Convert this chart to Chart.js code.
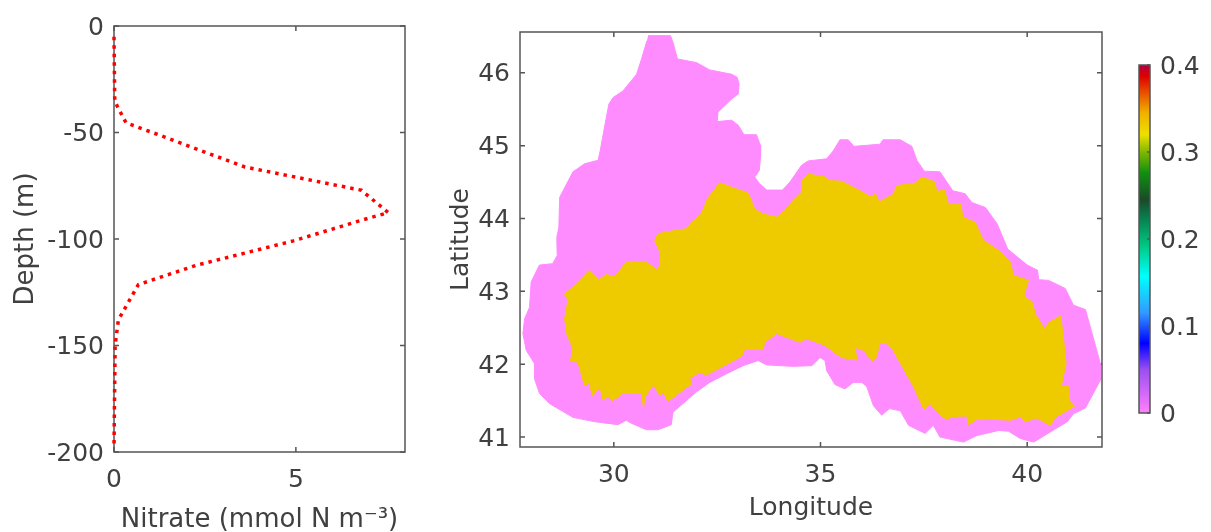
<!DOCTYPE html>
<html>
<head>
<meta charset="utf-8">
<title>Nitrate profile and map</title>
<script src="https://cdn.jsdelivr.net/npm/chart.js@4/dist/chart.umd.min.js"></script>
<style>
    html, body { margin: 0; padding: 0; background: #fff; overflow: hidden; }
    canvas { position: absolute; }
</style>
</head>
<body>
<canvas id="profileChart" width="420" height="532" style="left:0;top:0"></canvas>
<canvas id="mapChart" width="700" height="532" style="left:420px;top:0"></canvas>
<canvas id="barChart" width="86" height="400" style="left:1125px;top:40px"></canvas>
<script>
const depthValues = [-5, -35, -37.7, -45.4, -66.2, -77.1, -87.6, -91.2, -100.9, -112.3, -121.4, -138, -150, -198];
const nitrateValues = [0, 0.02, 0.09, 0.33, 3.6, 6.8, 7.54, 6.8, 4.93, 2.27, 0.67, 0.12, 0.03, 0];

// outer region, value 0
const outerLon = [30.83, 31.37, 31.43, 31.54, 32.00, 32.32, 32.85, 32.98, 33.03, 33.01, 32.85, 32.52, 32.50, 32.85, 33.01, 33.15, 33.45, 33.55, 33.55, 33.52, 33.41, 33.52, 33.70, 34.08, 34.26, 34.54, 34.70, 35.15, 35.31, 35.47, 35.67, 35.81, 36.44, 36.51, 36.93, 37.21, 37.33, 37.51, 37.89, 38.20, 38.50, 38.66, 38.99, 39.27, 39.53, 40.00, 40.25, 40.28, 40.52, 40.92, 41.12, 41.41, 41.77, 41.77, 41.41, 41.12, 40.97, 40.56, 40.16, 39.83, 39.55, 39.31, 38.78, 38.46, 37.89, 37.73, 37.53, 37.13, 36.93, 36.67, 36.48, 36.28, 36.12, 36.00, 35.79, 35.59, 35.35, 35.15, 35.11, 34.99, 34.79, 34.34, 33.70, 33.49, 33.13, 32.73, 32.32, 32.00, 31.43, 31.39, 31.07, 30.79, 30.42, 30.30, 30.10, 29.54, 29.01, 28.44, 28.20, 28.08, 28.08, 27.88, 27.80, 27.84, 27.96, 28.00, 28.20, 28.52, 28.63, 28.62, 28.67, 28.69, 29.01, 29.29, 29.62, 29.67, 29.76, 29.88, 29.98, 30.22, 30.55, 30.67, 30.80];
const outerLat = [46.51, 46.51, 46.42, 46.19, 46.14, 46.04, 45.98, 45.94, 45.85, 45.71, 45.64, 45.46, 45.33, 45.35, 45.28, 45.15, 45.15, 45.00, 44.86, 44.66, 44.57, 44.48, 44.39, 44.39, 44.50, 44.73, 44.79, 44.82, 44.93, 45.08, 45.08, 44.99, 45.02, 45.08, 45.08, 44.99, 44.80, 44.65, 44.64, 44.38, 44.34, 44.22, 44.15, 43.93, 43.58, 43.36, 43.29, 43.16, 43.15, 43.04, 42.81, 42.75, 42.01, 41.78, 41.40, 41.32, 41.21, 41.07, 40.93, 40.98, 41.08, 41.09, 41.02, 40.93, 41.00, 41.16, 41.05, 41.16, 41.36, 41.39, 41.30, 41.43, 41.69, 41.75, 41.75, 41.66, 41.72, 41.91, 42.05, 42.09, 41.98, 41.97, 41.99, 42.05, 41.98, 41.87, 41.75, 41.62, 41.34, 41.17, 41.10, 41.10, 41.19, 41.23, 41.17, 41.21, 41.27, 41.46, 41.60, 41.80, 42.01, 42.19, 42.42, 42.62, 42.78, 43.13, 43.36, 43.38, 43.49, 43.74, 43.88, 44.29, 44.64, 44.75, 44.80, 44.93, 45.21, 45.57, 45.66, 45.75, 45.98, 46.19, 46.44];

// inner region, value about 0.33
const innerLon = [32.55, 32.85, 33.25, 33.41, 33.61, 33.94, 34.14, 34.34, 34.54, 34.54, 34.70, 35.11, 35.23, 35.51, 35.96, 36.24, 36.32, 36.42, 36.76, 36.85, 37.33, 37.43, 37.61, 37.77, 37.81, 38.00, 38.10, 38.40, 38.44, 38.74, 38.94, 39.39, 39.59, 39.67, 40.03, 39.92, 40.12, 40.20, 40.41, 40.54, 40.80, 40.86, 40.94, 40.82, 40.99, 41.03, 41.14, 40.68, 40.56, 40.40, 40.24, 39.93, 39.85, 39.59, 39.07, 38.78, 38.58, 38.54, 38.18, 38.06, 37.89, 37.65, 37.51, 37.25, 36.76, 36.60, 36.44, 36.34, 36.26, 36.04, 35.84, 35.88, 35.51, 35.31, 35.11, 34.66, 34.50, 33.94, 33.65, 33.61, 33.17, 33.09, 32.64, 32.24, 32.08, 31.84, 31.88, 31.31, 31.19, 31.11, 30.96, 30.75, 30.72, 30.67, 30.22, 29.98, 29.86, 29.74, 29.66, 29.48, 29.41, 29.29, 29.13, 28.95, 29.01, 28.86, 28.81, 28.89, 28.81, 29.01, 29.17, 29.41, 29.64, 29.82, 30.02, 30.30, 30.77, 31.03, 31.13, 31.13, 30.99, 31.07, 31.43, 31.76, 31.88, 32.12, 32.28];
const innerLat = [44.49, 44.43, 44.35, 44.13, 44.06, 44.02, 44.11, 44.25, 44.36, 44.52, 44.61, 44.57, 44.52, 44.51, 44.38, 44.29, 44.35, 44.23, 44.33, 44.45, 44.49, 44.56, 44.54, 44.50, 44.37, 44.39, 44.19, 44.19, 44.02, 43.95, 43.70, 43.53, 43.40, 43.22, 43.15, 42.94, 42.85, 42.69, 42.49, 42.58, 42.66, 42.46, 42.01, 41.69, 41.70, 41.50, 41.42, 41.27, 41.16, 41.21, 41.26, 41.21, 41.28, 41.23, 41.25, 41.24, 41.17, 41.29, 41.28, 41.24, 41.30, 41.46, 41.37, 41.69, 42.19, 42.28, 42.29, 42.08, 42.04, 42.19, 42.23, 42.06, 42.09, 42.17, 42.26, 42.35, 42.30, 42.42, 42.30, 42.20, 42.21, 42.11, 41.97, 41.85, 41.89, 41.81, 41.73, 41.49, 41.62, 41.57, 41.72, 41.55, 41.40, 41.60, 41.60, 41.50, 41.56, 41.50, 41.69, 41.56, 41.74, 41.71, 42.03, 42.04, 42.21, 42.42, 42.62, 42.88, 42.96, 43.06, 43.15, 43.29, 43.16, 43.23, 43.20, 43.40, 43.41, 43.30, 43.36, 43.52, 43.70, 43.79, 43.83, 43.86, 43.95, 44.07, 44.29];

const colorLevels = [0, 0.05, 0.08, 0.115, 0.157, 0.19, 0.226, 0.245, 0.276, 0.30, 0.32, 0.345, 0.368, 0.387, 0.4];
const colorNames = ['#ff80ff', '#9a4ff0', '#0000ff', '#3399ff', '#00ffff', '#00cc88', '#0a7a4a', '#1a4a2a', '#109010', '#80b800', '#eee000', '#f0b000', '#e85000', '#dd0000', '#b00040'];

const textColor = '#404040';
const boxColor = '#555555';
Chart.defaults.font.family = '"DejaVu Sans"';
Chart.defaults.font.size = 25;
Chart.defaults.color = textColor;
Chart.defaults.animation = false;
Chart.defaults.responsive = false;
Chart.defaults.plugins.legend.display = false;
Chart.defaults.plugins.tooltip.enabled = false;

// axes box with ticks pointing inward, as in the original figure
const boxTicks = {
    id: 'boxTicks',
    beforeDatasetsDraw(chart, args, opts) {
        const { ctx, chartArea: a, scales } = chart;
        const len = opts.length;
        ctx.save();
        ctx.strokeStyle = boxColor;
        ctx.lineWidth = 1.5;
        ctx.strokeRect(a.left, a.top, a.right - a.left, a.bottom - a.top);
        ctx.beginPath();
        scales.x.ticks.forEach(t => {
            const x = scales.x.getPixelForValue(t.value);
            ctx.moveTo(x, a.bottom);
            ctx.lineTo(x, a.bottom - len);
            ctx.moveTo(x, a.top);
            ctx.lineTo(x, a.top + len);
        });
        scales.y.ticks.forEach(t => {
            const y = scales.y.getPixelForValue(t.value);
            ctx.moveTo(a.left, y);
            ctx.lineTo(a.left + len, y);
            ctx.moveTo(a.right, y);
            ctx.lineTo(a.right - len, y);
        });
        ctx.stroke();
        ctx.restore();
    }
};

// closes a dataset's outline and fills it
const fillOutline = {
    id: 'fillOutline',
    afterDatasetDraw(chart, args) {
        const ctx = chart.ctx;
        ctx.save();
        ctx.fillStyle = chart.data.datasets[args.index].backgroundColor;
        ctx.beginPath();
        args.meta.data.forEach((pt, i) => {
            if (i === 0) ctx.moveTo(pt.x, pt.y);
            else ctx.lineTo(pt.x, pt.y);
        });
        ctx.closePath();
        ctx.fill();
        ctx.restore();
    }
};

function pairs(xs, ys) {
    return xs.map((x, i) => ({ x: x, y: ys[i] }));
}

function fixedWidth(w) {
    return scale => { scale.width = w; };
}

function fixedHeight(h) {
    return scale => { scale.height = h; };
}

new Chart(document.getElementById('profileChart'), {
    type: 'scatter',
    data: {
        datasets: [{
            data: pairs(nitrateValues, depthValues),
            showLine: true,
            clip: false,
            borderColor: '#ff0000',
            borderWidth: 3.5,
            borderDash: [3.5, 5],
            pointRadius: 0
        }]
    },
    options: {
        layout: { padding: { top: 26, right: 15 } },
        scales: {
            x: {
                min: 0,
                max: 8,
                afterFit: fixedHeight(80),
                grid: { display: false },
                border: { display: false },
                ticks: { stepSize: 5, includeBounds: false, maxRotation: 0, padding: 5 },
                title: { display: true, text: 'Nitrate (mmol N m⁻³)', font: { size: 26 }, padding: { top: 0, bottom: -4 } }
            },
            y: {
                min: -200,
                max: 0,
                afterFit: fixedWidth(114),
                grid: { display: false },
                border: { display: false },
                ticks: { stepSize: 50, includeBounds: false, padding: 2, labelOffset: 2 },
                title: { display: true, text: 'Depth (m)', font: { size: 26 }, padding: { top: 11, bottom: 0 } }
            }
        },
        plugins: { boxTicks: { length: 5 } }
    },
    plugins: [boxTicks]
});

new Chart(document.getElementById('mapChart'), {
    type: 'scatter',
    data: {
        datasets: [{
            data: pairs(innerLon, innerLat),
            showLine: true,
            borderColor: '#eecb00',
            backgroundColor: '#eecb00',
            borderWidth: 1,
            pointRadius: 0
        }, {
            data: pairs(outerLon, outerLat),
            showLine: true,
            borderColor: '#ff8cff',
            backgroundColor: '#ff8cff',
            borderWidth: 1,
            pointRadius: 0
        }]
    },
    options: {
        layout: { padding: { top: 32, right: 18 } },
        scales: {
            x: {
                min: 27.73,
                max: 41.81,
                afterFit: fixedHeight(85),
                grid: { display: false },
                border: { display: false },
                ticks: { stepSize: 5, includeBounds: false, maxRotation: 0, padding: 5 },
                title: { display: true, text: 'Longitude', font: { size: 25 }, padding: { top: 0, bottom: 9 } }
            },
            y: {
                min: 40.863,
                max: 46.56,
                afterFit: fixedWidth(100),
                grid: { display: false },
                border: { display: false },
                ticks: { stepSize: 1, includeBounds: false, padding: 2, labelOffset: 2 },
                title: { display: true, text: 'Latitude', font: { size: 25 }, padding: { top: 26, bottom: 0 } }
            }
        },
        plugins: { boxTicks: { length: 5 } }
    },
    plugins: [boxTicks, fillOutline]
});

new Chart(document.getElementById('barChart'), {
    type: 'bar',
    data: {
        labels: ['value'],
        datasets: [{
            data: [[colorLevels[0], colorLevels[colorLevels.length - 1]]],
            barPercentage: 1,
            categoryPercentage: 1,
            backgroundColor: ctx => {
                const area = ctx.chart.chartArea;
                if (!area) return colorNames[0];
                const g = ctx.chart.ctx.createLinearGradient(0, area.bottom, 0, area.top);
                colorLevels.forEach((v, i) => g.addColorStop(v / 0.4, colorNames[i]));
                return g;
            }
        }]
    },
    options: {
        layout: { padding: { top: 25, bottom: 27, left: 14 } },
        scales: {
            x: { display: false },
            y: {
                position: 'right',
                min: 0,
                max: 0.4,
                afterFit: fixedWidth(61),
                grid: { display: false },
                border: { display: false },
                ticks: { stepSize: 0.1, includeBounds: false, padding: 2, labelOffset: 2 }
            }
        },
        plugins: { boxBar: { length: 3 } }
    },
    plugins: [{
        id: 'boxBar',
        afterDatasetsDraw(chart, args, opts) {
            const { ctx, chartArea: a, scales } = chart;
            ctx.save();
            ctx.strokeStyle = boxColor;
            ctx.lineWidth = 1.5;
            ctx.strokeRect(a.left, a.top, a.right - a.left, a.bottom - a.top);
            ctx.beginPath();
            scales.y.ticks.forEach(t => {
                const y = scales.y.getPixelForValue(t.value);
                ctx.moveTo(a.right, y);
                ctx.lineTo(a.right - opts.length, y);
            });
            ctx.stroke();
            ctx.restore();
        }
    }]
});
</script>
</body>
</html>
